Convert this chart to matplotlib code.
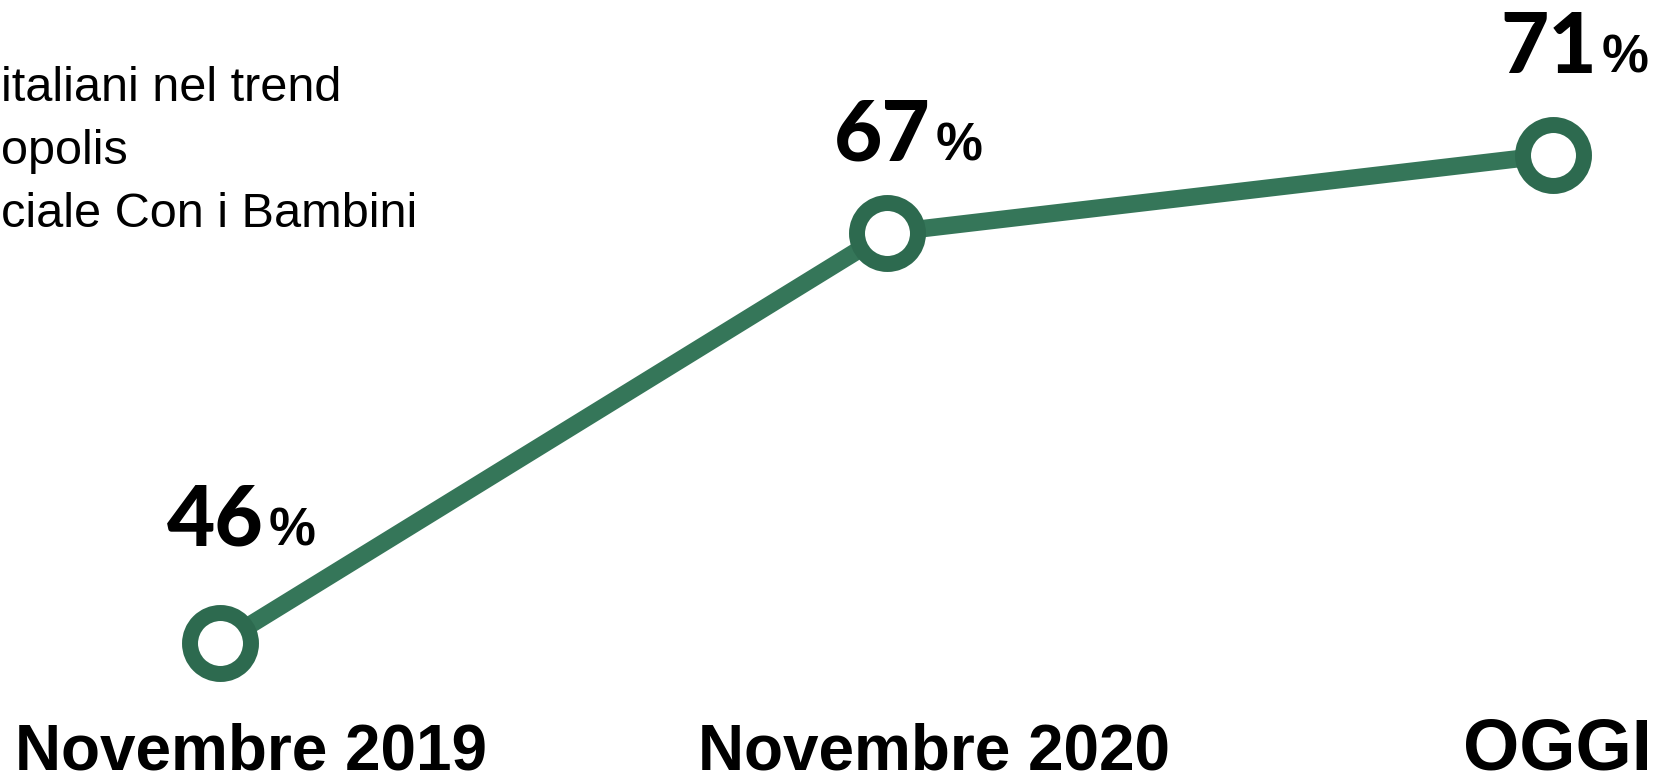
import matplotlib
matplotlib.use('Agg')
import matplotlib.pyplot as plt
from matplotlib import font_manager as fm
from matplotlib.transforms import offset_copy, blended_transform_factory

# ---- data ----
categories = ['Novembre 2019', 'Novembre 2020', 'OGGI']
values = [46, 67, 71]
value_labels = ['46', '67', '71']
intro_lines = ['italiani nel trend', 'opolis', 'ciale Con i Bambini']

# ---- layout / style ----
DPI = 100
W, H = 1663, 783
LINE_COLOR = '#357659'
RING_COLOR = '#2d6a4f'
label_dy = [98, 72, 82]          # px above point (baseline)
label_dx = -53                   # px, left edge of number relative to point
cat_dx = [31, 47, 4]             # px, center offset of category labels
cat_size = [46, 46, 52]


def find_heavy():
    prefs = ['Lato', 'Roboto', 'Inter', 'Open Sans', 'Noto Sans']
    for fam in prefs:
        cands = [f for f in fm.fontManager.ttflist
                 if f.name == fam and f.style == 'normal'
                 and isinstance(f.weight, int)]
        if cands:
            c = max(cands, key=lambda f: f.weight)
            if c.weight >= 800:
                return fm.FontProperties(fname=c.fname)
    return fm.FontProperties(family='DejaVu Sans', weight='bold')


fig = plt.figure(figsize=(W / DPI, H / DPI), dpi=DPI)
fig.patch.set_facecolor('white')
ax = fig.add_axes([0, 0, 1, 1])
ax.set_xlim(-0.3301, 2.165)
ax.set_ylim(38.86, 78.91)
ax.axis('off')

x = list(range(len(values)))
ax.plot(x, values, color=LINE_COLOR, linewidth=12.6, solid_capstyle='butt',
        marker='o', markersize=43.9, markerfacecolor='white',
        markeredgecolor=RING_COLOR, markeredgewidth=11.5, zorder=3)

heavy = find_heavy()
heavy.set_size(60)
canvas = fig.canvas
renderer = canvas.get_renderer()

for i, (v, lab) in enumerate(zip(values, value_labels)):
    tr = offset_copy(ax.transData, fig=fig, x=label_dx, y=label_dy[i], units='dots')
    t = ax.text(i, v, lab, transform=tr, fontproperties=heavy, color='black',
                ha='left', va='baseline')
    w = t.get_window_extent(renderer=renderer).width
    tr2 = offset_copy(ax.transData, fig=fig, x=label_dx + w + 5, y=label_dy[i], units='dots')
    ax.text(i, v, '%', transform=tr2, family='Liberation Sans', weight='bold',
            fontsize=38, color='black', ha='left', va='baseline')

btr = blended_transform_factory(ax.transData, ax.transAxes)
for i, cat in enumerate(categories):
    tr = offset_copy(btr, fig=fig, x=cat_dx[i], y=14, units='dots')
    ax.text(i, 0, cat, transform=tr, family='Liberation Sans', weight='bold',
            fontsize=cat_size[i], color='black', ha='center', va='baseline')

baselines = [101, 164, 227]
for line, yb in zip(intro_lines, baselines):
    fig.text(1 / W, 1 - yb / H, line, family='Liberation Sans', fontsize=35,
             color='black', ha='left', va='baseline')

fig.savefig('out.png', dpi=DPI, facecolor='white')
